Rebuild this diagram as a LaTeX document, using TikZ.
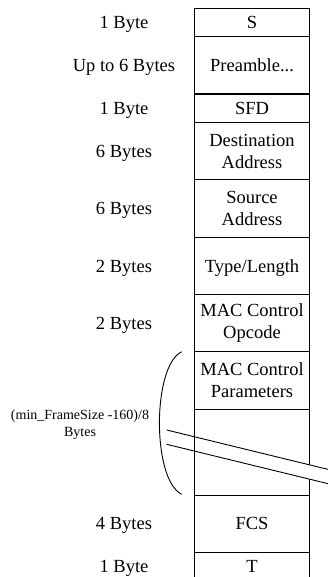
\documentclass[tikz,border=0pt]{standalone}
\usepackage{fontspec}
\setmainfont{Liberation Serif}
\usetikzlibrary{positioning}

\tikzset{field/.style={draw,rectangle,line width=0.9pt,minimum width=114.6pt,inner sep=0pt},
  size/.style={inner sep=0pt,text height=12.3pt,text depth=0pt},
  oneline/.style={text height=12.3pt,text depth=0pt}}

\begin{document}
\begin{tikzpicture}
  [x=1pt,y=-1pt,line width=0.9pt,every node/.style={font=\fontsize{18.5}{22}\selectfont,align=center}]
  \clip (0,0) rectangle (328,577);
  % frame fields
  \node[field,minimum height=28.65pt] (S) at (252,22.3) {S};
  \node[field,minimum height=57.3pt] (pre) at (252,65.3) {Preamble...};
  \node[field,minimum height=28.65pt] (sfd) at (252,108.3) {SFD};
  \node[field,minimum height=57.3pt] (dst) at (252,151.25) {Destination\\Address};
  \node[field,minimum height=57.3pt] (src) at (252,208.55) {Source\\Address};
  \node[field,oneline,minimum height=57.3pt] (typ) at (252,265.85) {Type/Length};
  \node[field,minimum height=57.3pt] (opc) at (252,323.15) {MAC Control\\Opcode};
  \node[field,minimum height=57.3pt] (par) at (252,380.45) {MAC Control\\Parameters};
  \node[field,minimum height=85.95pt] (pad) at (252,452.1) {};
  \node[field,minimum height=57.3pt] (fcs) at (252,523.7) {FCS};
  \node[field,minimum height=28.65pt] (T) at (252,566.7) {T};

  % sizes
  \node[size] (lS) at (124,22.3) {1 Byte};
  \node[size] (lpre) at (124,65.3) {Up to 6 Bytes};
  \node[size] (lsfd) at (124,108.3) {1 Byte};
  \node[size] (ldst) at (124,151.25) {6 Bytes};
  \node[size] (lsrc) at (124,208.55) {6 Bytes};
  \node[size] (ltyp) at (124,265.85) {2 Bytes};
  \node[size] (lopc) at (124,323.15) {2 Bytes};
  \node[inner sep=0pt,font=\fontsize{14}{17}\selectfont] (lpar) at (80,424.5) {(min\_FrameSize -160)/8\\Bytes};
  \node[size] (lfcs) at (124,523.7) {4 Bytes};
  \node[size] (lT) at (124,566.7) {1 Byte};

  % bracket
  \coordinate (bt) at (181.7,351.7);
  \coordinate (bb) at (181.7,494.3);
  \draw (bt) .. controls (152,366) and (152,480) .. (bb);

  % break mark
  \coordinate (a1) at (166.7,430);
  \coordinate (a2) at (340,472.3);
  \coordinate (b1) at (166.7,444.3);
  \coordinate (b2) at (340,486.6);
  \fill[white] (196,437.1) -- (a2) -- (b2) -- (196,451.4) -- cycle;
  \draw (a1) -- (a2);
  \draw (b1) -- (b2);

\end{tikzpicture}
\end{document}
